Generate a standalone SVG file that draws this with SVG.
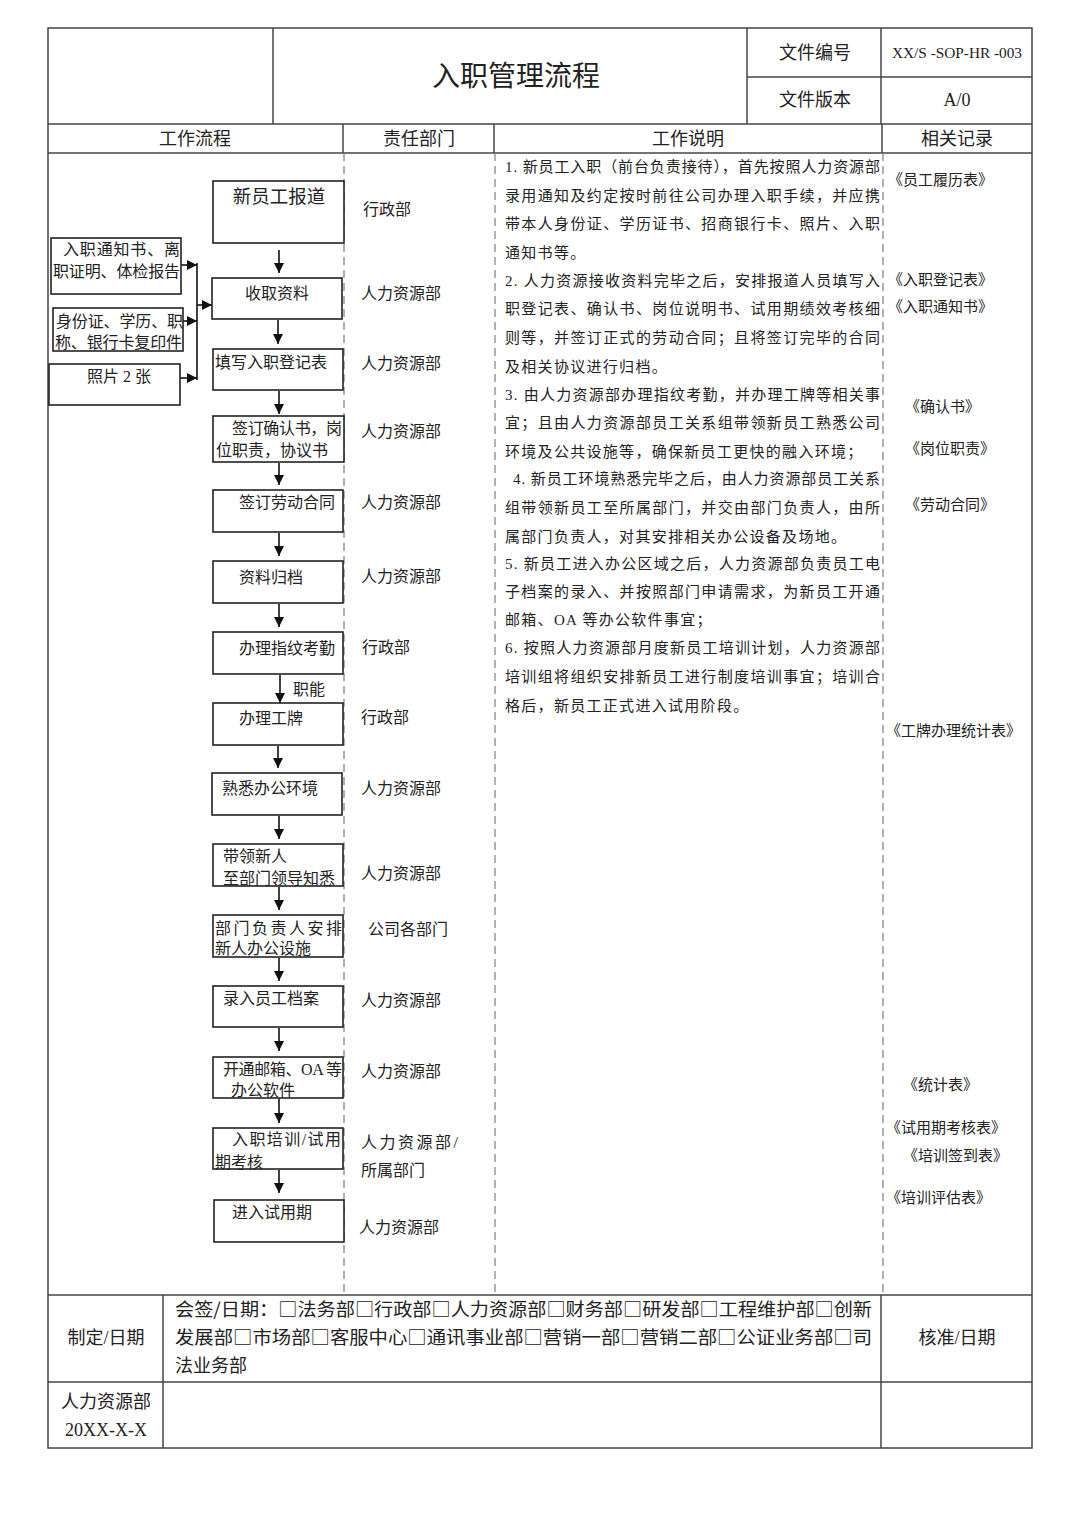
<svg xmlns="http://www.w3.org/2000/svg" width="1080" height="1527" viewBox="0 0 1080 1527">
<defs>
<marker id="ah" markerWidth="10" markerHeight="10" refX="10" refY="5" orient="auto" markerUnits="userSpaceOnUse"><path d="M0,0 L10,5 L0,10 z" fill="#111"/></marker>
<style>
text{font-family:"Liberation Serif","Noto Sans CJK SC",serif;fill:#222}
.tbl{stroke:#444;stroke-width:1.5;fill:none}
.dash{stroke:#888;stroke-width:1.3;stroke-dasharray:8,5;fill:none}
.box{fill:#fff;stroke:#222;stroke-width:1.6}
.bx{font-size:16px}
.dp{font-size:16px}
.ds{font-size:15px}
.rc{font-size:15px}
.hd{font-size:18px}
.cjk{font-family:"Noto Sans CJK SC","Liberation Serif",sans-serif}
.con{stroke:#111;stroke-width:1.6;fill:none;marker-end:url(#ah)}
</style>
</defs>
<rect width="1080" height="1527" fill="#fff"/>

<g id="table">
<rect class="tbl" x="48" y="28" width="984" height="1420"/>
<line class="tbl" x1="273" y1="28" x2="273" y2="124"/>
<line class="tbl" x1="747" y1="28" x2="747" y2="124"/>
<line class="tbl" x1="881" y1="28" x2="881" y2="124"/>
<line class="tbl" x1="747" y1="77" x2="1032" y2="77"/>
<line class="tbl" x1="48" y1="124" x2="1032" y2="124"/>
<line class="tbl" x1="48" y1="153" x2="1032" y2="153"/>
<line class="tbl" x1="343" y1="124" x2="343" y2="153"/>
<line class="tbl" x1="494" y1="124" x2="494" y2="153"/>
<line class="tbl" x1="882" y1="124" x2="882" y2="153"/>
<line class="dash" x1="344" y1="153" x2="344" y2="1295"/>
<line class="dash" x1="495" y1="153" x2="495" y2="1295"/>
<line class="dash" x1="883" y1="153" x2="883" y2="1295"/>
<line class="tbl" x1="48" y1="1295" x2="1032" y2="1295"/>
<line class="tbl" x1="48" y1="1382" x2="1032" y2="1382"/>
<line class="tbl" x1="163" y1="1295" x2="163" y2="1448"/>
<line class="tbl" x1="881" y1="1295" x2="881" y2="1448"/>
</g>

<g id="header">
<text x="516" y="86" font-size="28" text-anchor="middle">入职管理流程</text>
<text x="815" y="59" font-size="18" text-anchor="middle">文件编号</text>
<text x="815" y="106" font-size="18" text-anchor="middle">文件版本</text>
<text x="892" y="58" font-size="14" textLength="130" lengthAdjust="spacingAndGlyphs">XX/S -SOP-HR -003</text>
<text x="957" y="106" font-size="18" text-anchor="middle">A/0</text>
<text class="hd" x="195" y="145" text-anchor="middle">工作流程</text>
<text class="hd" x="419" y="145" text-anchor="middle">责任部门</text>
<text class="hd" x="688" y="145" text-anchor="middle">工作说明</text>
<text class="hd" x="957" y="145" text-anchor="middle">相关记录</text>
</g>

<g id="connectors">
<line class="con" x1="181" y1="265" x2="197" y2="265"/>
<line class="con" x1="183" y1="321" x2="197" y2="321"/>
<line class="con" x1="180" y1="378" x2="197" y2="378"/>
<line x1="197" y1="263" x2="197" y2="380" stroke="#111" stroke-width="1.6"/>
<line class="con" x1="197" y1="305" x2="212" y2="305"/>
<line class="con" x1="279" y1="250" x2="279" y2="273"/>
<line class="con" x1="278" y1="320" x2="278" y2="344"/>
<line class="con" x1="279" y1="391" x2="279" y2="414"/>
<line class="con" x1="279" y1="463" x2="279" y2="485"/>
<line class="con" x1="279" y1="533" x2="279" y2="556"/>
<line class="con" x1="279" y1="604" x2="279" y2="627"/>
<line class="con" x1="280" y1="675" x2="280" y2="703"/>
<line class="con" x1="278" y1="746" x2="278" y2="768"/>
<line class="con" x1="279" y1="816" x2="279" y2="839"/>
<line class="con" x1="279" y1="887" x2="279" y2="910"/>
<line class="con" x1="279" y1="958" x2="279" y2="981"/>
<line class="con" x1="279" y1="1028" x2="279" y2="1051"/>
<line class="con" x1="279" y1="1099" x2="279" y2="1123"/>
<line class="con" x1="279" y1="1170" x2="279" y2="1193"/>
<text x="293" y="695" font-size="16">职能</text>
</g>

<g id="in1"><rect class="box" x="51" y="238" width="130" height="56"/>
<text class="bx" x="63" y="255" textLength="117" lengthAdjust="spacing">入职通知书、离</text>
<text class="bx" x="53" y="277" textLength="127" lengthAdjust="spacing">职证明、体检报告</text></g>
<g id="in2"><rect class="box" x="53" y="308" width="130" height="43"/>
<text class="bx" x="56" y="327" textLength="127" lengthAdjust="spacing">身份证、学历、职</text>
<text class="bx" x="55" y="348" textLength="127" lengthAdjust="spacing">称、银行卡复印件</text></g>
<g id="in3"><rect class="box" x="49" y="364" width="131" height="41"/>
<text class="bx" x="87" y="382">照片 2 张</text></g>

<g id="n1"><rect class="box" x="213" y="181" width="131" height="62"/><text x="279" y="203" font-size="18.5" text-anchor="middle">新员工报道</text></g>
<g id="n2"><rect class="box" x="212" y="278" width="130" height="41"/><text class="bx" x="245" y="299">收取资料</text></g>
<g id="n3"><rect class="box" x="213" y="349" width="130" height="41"/><text class="bx" x="215" y="368">填写入职登记表</text></g>
<g id="n4"><rect class="box" x="213" y="416" width="131" height="46"/>
<text class="bx" x="232" y="434" textLength="110" lengthAdjust="spacing">签订确认书，岗</text>
<text class="bx" x="216" y="456">位职责，协议书</text></g>
<g id="n5"><rect class="box" x="213" y="490" width="130" height="42"/><text class="bx" x="239" y="508">签订劳动合同</text></g>
<g id="n6"><rect class="box" x="213" y="561" width="130" height="42"/><text class="bx" x="239" y="583">资料归档</text></g>
<g id="n7"><rect class="box" x="213" y="632" width="130" height="42"/><text class="bx" x="239" y="654">办理指纹考勤</text></g>
<g id="n8"><rect class="box" x="213" y="703" width="130" height="42"/><text class="bx" x="239" y="724">办理工牌</text></g>
<g id="n9"><rect class="box" x="212" y="773" width="130" height="42"/><text class="bx" x="222" y="794">熟悉办公环境</text></g>
<g id="n10"><rect class="box" x="213" y="844" width="130" height="42"/>
<text class="bx" x="223" y="862">带领新人</text>
<text class="bx" x="223" y="884">至部门领导知悉</text></g>
<g id="n11"><rect class="box" x="213" y="915" width="130" height="42"/>
<text class="bx" x="215" y="934" textLength="127" lengthAdjust="spacing">部门负责人安排</text>
<text class="bx" x="215" y="954">新人办公设施</text></g>
<g id="n12"><rect class="box" x="213" y="986" width="130" height="41"/><text class="bx" x="223" y="1004">录入员工档案</text></g>
<g id="n13"><rect class="box" x="213" y="1057" width="130" height="41"/>
<text class="bx" x="223" y="1075" textLength="119" lengthAdjust="spacing">开通邮箱、OA 等</text>
<text class="bx" x="231" y="1096">办公软件</text></g>
<g id="n14"><rect class="box" x="213" y="1128" width="130" height="41"/>
<text class="bx" x="232" y="1145" textLength="109" lengthAdjust="spacing">入职培训/试用</text>
<text class="bx" x="215" y="1168">期考核</text></g>
<g id="n15"><rect class="box" x="214" y="1200" width="130" height="42"/><text class="bx" x="232" y="1218">进入试用期</text></g>

<g id="depts">
<text class="dp" x="363" y="215">行政部</text>
<text class="dp" x="361" y="299">人力资源部</text>
<text class="dp" x="361" y="369">人力资源部</text>
<text class="dp" x="361" y="437">人力资源部</text>
<text class="dp" x="361" y="508">人力资源部</text>
<text class="dp" x="361" y="582">人力资源部</text>
<text class="dp" x="362" y="653">行政部</text>
<text class="dp" x="361" y="723">行政部</text>
<text class="dp" x="361" y="794">人力资源部</text>
<text class="dp" x="361" y="879">人力资源部</text>
<text class="dp" x="368" y="935">公司各部门</text>
<text class="dp" x="361" y="1006">人力资源部</text>
<text class="dp" x="361" y="1077">人力资源部</text>
<text class="dp" x="361" y="1148" textLength="97" lengthAdjust="spacing">人力资源部/</text>
<text class="dp" x="361" y="1176">所属部门</text>
<text class="dp" x="359" y="1233">人力资源部</text>
</g>

<g id="desc">
<text class="ds" x="505" y="172" textLength="375" lengthAdjust="spacing">1. 新员工入职（前台负责接待），首先按照人力资源部</text>
<text class="ds" x="505" y="201" textLength="375" lengthAdjust="spacing">录用通知及约定按时前往公司办理入职手续，并应携</text>
<text class="ds" x="505" y="229" textLength="375" lengthAdjust="spacing">带本人身份证、学历证书、招商银行卡、照片、入职</text>
<text class="ds" x="505" y="258" letter-spacing="1.3">通知书等。</text>
<text class="ds" x="505" y="286" textLength="375" lengthAdjust="spacing">2. 人力资源接收资料完毕之后，安排报道人员填写入</text>
<text class="ds" x="505" y="314" textLength="375" lengthAdjust="spacing">职登记表、确认书、岗位说明书、试用期绩效考核细</text>
<text class="ds" x="505" y="343" textLength="375" lengthAdjust="spacing">则等，并签订正式的劳动合同；且将签订完毕的合同</text>
<text class="ds" x="505" y="372" letter-spacing="1.3">及相关协议进行归档。</text>
<text class="ds" x="505" y="400" textLength="375" lengthAdjust="spacing">3. 由人力资源部办理指纹考勤，并办理工牌等相关事</text>
<text class="ds" x="505" y="428" textLength="375" lengthAdjust="spacing">宜；且由人力资源部员工关系组带领新员工熟悉公司</text>
<text class="ds" x="505" y="457" letter-spacing="1.3">环境及公共设施等，确保新员工更快的融入环境；</text>
<text class="ds" x="513" y="484" textLength="367" lengthAdjust="spacing">4. 新员工环境熟悉完毕之后，由人力资源部员工关系</text>
<text class="ds" x="505" y="513" textLength="375" lengthAdjust="spacing">组带领新员工至所属部门，并交由部门负责人，由所</text>
<text class="ds" x="505" y="542" letter-spacing="1.3">属部门负责人，对其安排相关办公设备及场地。</text>
<text class="ds" x="505" y="569" textLength="375" lengthAdjust="spacing">5. 新员工进入办公区域之后，人力资源部负责员工电</text>
<text class="ds" x="505" y="597" textLength="375" lengthAdjust="spacing">子档案的录入、并按照部门申请需求，为新员工开通</text>
<text class="ds" x="505" y="625" letter-spacing="1.3">邮箱、OA 等办公软件事宜；</text>
<text class="ds" x="505" y="653" textLength="375" lengthAdjust="spacing">6. 按照人力资源部月度新员工培训计划，人力资源部</text>
<text class="ds" x="505" y="682" textLength="375" lengthAdjust="spacing">培训组将组织安排新员工进行制度培训事宜；培训合</text>
<text class="ds" x="505" y="711" letter-spacing="1.3">格后，新员工正式进入试用阶段。</text>
</g>

<g id="records">
<text class="rc" x="888" y="185">《员工履历表》</text>
<text class="rc" x="888" y="285">《入职登记表》</text>
<text class="rc" x="888" y="312">《入职通知书》</text>
<text class="rc" x="905" y="412">《确认书》</text>
<text class="rc" x="905" y="454">《岗位职责》</text>
<text class="rc" x="905" y="510">《劳动合同》</text>
<text class="rc" x="886" y="736">《工牌办理统计表》</text>
<text class="rc" x="903" y="1090">《统计表》</text>
<text class="rc" x="886" y="1133">《试用期考核表》</text>
<text class="rc" x="903" y="1161">《培训签到表》</text>
<text class="rc" x="886" y="1203">《培训评估表》</text>
</g>

<g id="footer">
<text class="hd" x="106" y="1344" text-anchor="middle">制定/日期</text>
<text class="hd cjk" x="175" y="1316" textLength="697" lengthAdjust="spacingAndGlyphs">会签/日期：□法务部□行政部□人力资源部□财务部□研发部□工程维护部□创新</text>
<text class="hd cjk" x="175" y="1344" textLength="697" lengthAdjust="spacingAndGlyphs">发展部□市场部□客服中心□通讯事业部□营销一部□营销二部□公证业务部□司</text>
<text class="hd" x="175" y="1372">法业务部</text>
<text class="hd" x="957" y="1344" text-anchor="middle">核准/日期</text>
<text class="hd" x="106" y="1408" text-anchor="middle">人力资源部</text>
<text class="hd" x="106" y="1436" text-anchor="middle">20XX-X-X</text>
</g>
</svg>
